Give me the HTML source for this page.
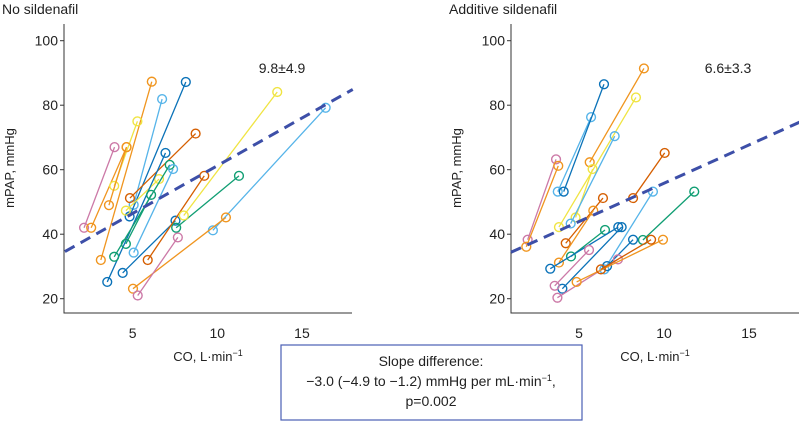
<!DOCTYPE html>
<html><head><meta charset="utf-8">
<style>
body{margin:0;background:#fff;width:799px;height:421px;overflow:hidden;font-family:"Liberation Sans",sans-serif;}
svg{display:block}
text{font-family:"Liberation Sans",sans-serif;fill:#222}
</style></head>
<body>
<svg id="chart" width="799" height="421"></svg>
<script>
const xTicks=[5,10,15];
const yTicks=[20,40,60,80,100];
const panelTitles=["No sildenafil","Additive sildenafil"];
const slopeLabels=["9.8±4.9","6.6±3.3"];
const colors={b:"#0a72b8",o:"#f0951f",l:"#56b4e9",y:"#f0e442",g:"#109e73",r:"#d55e00",p:"#cc79a7"};
const leftColors=["p","o","o","y","o","l","b","r","y","b","g","g","l","b","g","r","y","l","o","p"];
const leftX1=[2.13,2.55,3.12,3.91,3.6,5.06,4.82,4.84,4.6,3.5,3.91,4.6,5.06,4.41,7.57,5.89,8.02,9.74,5.02,5.3];
const leftY1=[42,42,32,55,49,49.1,45.5,51.2,47.3,25.2,33,37,34.3,28,42,32,45.8,41.2,23.1,21];
const leftX2=[3.93,4.64,6.13,5.28,4.64,6.74,8.14,8.72,6.56,6.94,7.19,6.09,7.39,7.53,11.28,9.23,13.54,16.4,10.51,7.67];
const leftY2=[67,67,87.3,75,67,81.9,87.2,71.2,57.1,65.2,61.5,52.2,60.2,44.2,58.1,58.1,84.1,79.2,45.2,39];
const rightColors=["p","o","l","b","o","y","y","l","r","o","r","l","g","g","b","b","b","p","p","o","r"];
const rightX1=[1.98,1.9,3.75,4.1,5.63,3.82,4.8,4.51,4.22,3.82,8.18,6.49,8.76,4.53,3.31,4.02,6.65,3.57,3.73,4.86,6.29];
const rightY1=[38.3,36.1,53.2,53.2,62.3,42.2,45.2,43.3,37.2,31.2,51.2,29.1,38.2,33.1,29.3,23.1,30.1,24,20.3,25.2,29.1];
const rightX2=[3.65,3.78,5.71,6.47,8.82,8.35,5.8,7.1,6.41,5.84,10.04,9.35,11.78,6.53,7.31,7.51,8.18,5.59,7.29,9.94,9.24];
const rightY2=[63.2,61.2,76.3,86.5,91.4,82.4,60.2,70.4,51.2,47.3,65.2,53.2,53.2,41.3,42.2,42.2,38.3,35.1,32.2,38.3,38.3];
const trendX=[1,18];
const leftTrendY=[34.6,84.9];
const rightTrendY=[34.4,74.8];

const NS="http://www.w3.org/2000/svg";
const svg=document.getElementById('chart');
function mk(tag,attrs,parent){const e=document.createElementNS(NS,tag);for(const k in attrs)e.setAttribute(k,attrs[k]);(parent||svg).appendChild(e);return e;}
const panels=[
 {x0:48,ppx:16.93,axisX:64,right:352,cols:leftColors,x1:leftX1,y1:leftY1,x2:leftX2,y2:leftY2,ty:leftTrendY,titleX:2,labX:208,ylabX:14,slX:282},
 {x0:494,ppx:17,axisX:511,right:799,cols:rightColors,x1:rightX1,y1:rightY1,x2:rightX2,y2:rightY2,ty:rightTrendY,titleX:449,labX:655,ylabX:461,slX:728}
];
const yS=v=>40.7+(100-v)*3.225;
panels.forEach((P,i)=>{
 const g=mk('g',{});
 
 
 const xS=v=>P.x0+v*P.ppx;
 const t=mk('text',{x:P.titleX,y:14,'font-size':14},g);t.textContent=panelTitles[i];
 
 const ax=mk('path',{d:`M${P.axisX},24V313H${P.right}`,stroke:'#333','stroke-width':1,fill:'none'},g);
 
 yTicks.forEach(v=>{
  mk('line',{x1:P.axisX-4,x2:P.axisX,y1:yS(v),y2:yS(v),stroke:'#333'},g);
  const tt=mk('text',{x:P.axisX-6,y:yS(v)+5,'font-size':14,'text-anchor':'end'},g);tt.textContent=v;
  
 });
 xTicks.forEach(v=>{
  const tt=mk('text',{x:xS(v),y:338,'font-size':14,'text-anchor':'middle'},g);tt.textContent=v;
  
 });
 const xl=mk('text',{x:P.labX,y:361,'font-size':13,'text-anchor':'middle'},g);
 xl.innerHTML='CO, L·min<tspan dy="-5" font-size="9">−1</tspan>';
 
 const yl=mk('text',{x:0,y:0,'font-size':13,'text-anchor':'middle',transform:`translate(${P.ylabX},168) rotate(-90)`},g);
 yl.textContent='mPAP, mmHg';
 
 P.cols.forEach((c,k)=>{
  const col=colors[c];
  const ln=mk('line',{x1:xS(P.x1[k]),y1:yS(P.y1[k]),x2:xS(P.x2[k]),y2:yS(P.y2[k]),stroke:col,'stroke-width':1.3},g);
  
  [[P.x1[k],P.y1[k]],[P.x2[k],P.y2[k]]].forEach(pt=>{
   const c1=mk('circle',{cx:xS(pt[0]),cy:yS(pt[1]),r:4.4,fill:'none',stroke:col,'stroke-width':1.4},g);
   
  });
 });
 const tr=mk('line',{x1:xS(trendX[0]),y1:yS(P.ty[0]),x2:xS(trendX[1]),y2:yS(P.ty[1]),stroke:'#3d4fa8','stroke-width':3,'stroke-dasharray':'11,7'},g);
 
 const sl=mk('text',{x:P.slX,y:73,'font-size':14,'text-anchor':'middle'},g);sl.textContent=slopeLabels[i];
 
});
const bx=mk('g',{});

mk('rect',{x:281,y:345,width:301,height:75,fill:'#fff',stroke:'#4a5fb5','stroke-width':1.2},bx);
const l1=mk('text',{x:431,y:366,'font-size':14,'text-anchor':'middle'},bx);l1.textContent='Slope difference:';
const l2=mk('text',{x:431,y:386,'font-size':14,'text-anchor':'middle'},bx);l2.innerHTML='−3.0 (−4.9 to −1.2) mmHg per mL·min<tspan dy="-5" font-size="9">−1</tspan><tspan dy="5">,</tspan>';
const l3=mk('text',{x:431,y:406,'font-size':14,'text-anchor':'middle'},bx);l3.textContent='p=0.002';
</script>
</body></html>
